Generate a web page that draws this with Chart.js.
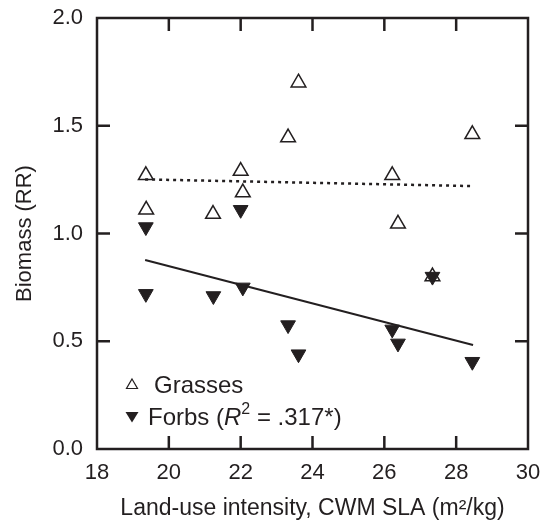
<!DOCTYPE html>
<html>
<head>
<meta charset="utf-8">
<script src="https://cdn.jsdelivr.net/npm/chart.js@4.4.1/dist/chart.umd.min.js"></script>
<style>
  html, body { margin: 0; padding: 0; background: #fff; }
  #wrap { width: 548px; height: 522px; }
</style>
</head>
<body>
<div id="wrap"><canvas id="biomassChart" width="548" height="522"></canvas></div>
<script>
// values
const grassSLA = [19.36, 19.37, 21.23, 22.0, 22.06, 23.32, 23.61, 26.22, 26.38, 27.34, 28.45];
const grassRR = [1.27, 1.11, 1.09, 1.29, 1.19, 1.445, 1.70, 1.27, 1.045, 0.80, 1.46];
const forbSLA = [19.36, 19.36, 21.24, 22.0, 22.06, 23.32, 23.61, 26.22, 26.38, 27.34, 28.45];
const forbRR = [1.03, 0.72, 0.71, 1.11, 0.75, 0.575, 0.44, 0.555, 0.49, 0.80, 0.405];
// fitted lines (end points)
const grassFitX = [19.34, 28.47];
const grassFitY = [1.251, 1.22];
const forbFitX = [19.34, 28.47];
const forbFitY = [0.877, 0.483];

const xTicks = [18, 20, 22, 24, 26, 28, 30];
const yTicks = [0.0, 0.5, 1.0, 1.5, 2.0];

const ink = '#231f20';
const fontFamily = '"Liberation Sans", Arial, Helvetica, sans-serif';

const toPoints = (xs, ys) => xs.map((x, i) => ({ x: x, y: ys[i] }));

// frame + inward ticks on all four sides, plus the legend text
const framePlugin = {
  id: 'frame',
  afterDatasetsDraw(chart) {
    const { ctx, chartArea: a, scales } = chart;
    const tickLen = 13;
    ctx.save();
    ctx.strokeStyle = ink;
    ctx.lineWidth = 2.5;
    ctx.strokeRect(a.left, a.top, a.right - a.left, a.bottom - a.top);
    ctx.beginPath();
    xTicks.slice(1, -1).forEach((v) => {
      const px = scales.x.getPixelForValue(v);
      ctx.moveTo(px, a.bottom); ctx.lineTo(px, a.bottom - tickLen);
      ctx.moveTo(px, a.top); ctx.lineTo(px, a.top + tickLen);
    });
    yTicks.slice(1, -1).forEach((v) => {
      const py = scales.y.getPixelForValue(v);
      ctx.moveTo(a.left, py); ctx.lineTo(a.left + tickLen, py);
      ctx.moveTo(a.right, py); ctx.lineTo(a.right - tickLen, py);
    });
    ctx.stroke();

    // legend
    const fs = 24;
    ctx.fillStyle = ink;
    ctx.lineWidth = 1.2;
    // open triangle
    let mx = 132, my = 384;
    ctx.beginPath();
    ctx.moveTo(mx, my - 5); ctx.lineTo(mx + 5.5, my + 4.5); ctx.lineTo(mx - 5.5, my + 4.5); ctx.closePath();
    ctx.stroke();
    // filled down triangle
    my = 417;
    ctx.beginPath();
    ctx.moveTo(mx - 6.5, my - 5); ctx.lineTo(mx + 6.5, my - 5); ctx.lineTo(mx, my + 5.5); ctx.closePath();
    ctx.fill();

    ctx.textBaseline = 'middle';
    ctx.textAlign = 'left';
    ctx.font = fs + 'px ' + fontFamily;
    ctx.fillText('Grasses', 154, 386);
    let tx = 148, ty = 418;
    const parts = [
      { t: 'Forbs (', f: fs + 'px ' + fontFamily, dy: 0 },
      { t: 'R', f: 'italic ' + fs + 'px ' + fontFamily, dy: 0 },
      { t: '2', f: Math.round(fs * 0.68) + 'px ' + fontFamily, dy: -8 },
      { t: ' = .317*)', f: fs + 'px ' + fontFamily, dy: 0 }
    ];
    parts.forEach((p) => {
      ctx.font = p.f;
      ctx.fillText(p.t, tx, ty + p.dy);
      tx += ctx.measureText(p.t).width;
    });
    ctx.restore();
  }
};

new Chart(document.getElementById('biomassChart'), {
  type: 'scatter',
  data: {
    datasets: [
      {
        label: 'Grasses fit',
        type: 'line',
        data: toPoints(grassFitX, grassFitY),
        borderColor: ink,
        borderWidth: 2.5,
        borderDash: [3, 4],
        pointRadius: 0,
        fill: false
      },
      {
        label: 'Forbs fit',
        type: 'line',
        data: toPoints(forbFitX, forbFitY),
        borderColor: ink,
        borderWidth: 2,
        pointRadius: 0,
        fill: false
      },
      {
        label: 'Forbs',
        data: toPoints(forbSLA, forbRR),
        pointStyle: 'triangle',
        rotation: 180,
        pointRadius: 8.5,
        backgroundColor: ink,
        borderColor: ink,
        borderWidth: 1
      },
      {
        label: 'Grasses',
        data: toPoints(grassSLA, grassRR),
        pointStyle: 'triangle',
        pointRadius: 8.5,
        backgroundColor: 'rgba(255,255,255,0)',
        borderColor: ink,
        borderWidth: 1.5
      }
    ]
  },
  options: {
    responsive: false,
    animation: false,
    devicePixelRatio: 1,
    layout: { autoPadding: false, padding: { left: 0, top: 18, right: 20, bottom: 0 } },
    plugins: {
      legend: { display: false },
      tooltip: { enabled: false }
    },
    scales: {
      x: {
        type: 'linear',
        min: 18,
        max: 30,
        afterBuildTicks: (scale) => { scale.ticks = xTicks.map((v) => ({ value: v })); },
        afterFit: (scale) => {
          scale.height = 73;
          scale.paddingLeft = 0;
          scale.paddingRight = 0;
        },
        grid: { display: false, drawTicks: false },
        border: { display: false },
        ticks: {
          color: ink,
          padding: 11,
          font: { family: fontFamily, size: 22 },
          callback: (v) => String(v)
        },
        title: {
          display: true,
          text: 'Land-use intensity, CWM SLA (m²/kg)',
          color: ink,
          font: { family: fontFamily, size: 23 },
          padding: { top: 0, bottom: 0 }
        }
      },
      y: {
        type: 'linear',
        min: 0,
        max: 2,
        afterBuildTicks: (scale) => { scale.ticks = yTicks.map((v) => ({ value: v })); },
        afterFit: (scale) => {
          scale.width = 97;
          scale.paddingTop = 0;
          scale.paddingBottom = 0;
        },
        grid: { display: false, drawTicks: false },
        border: { display: false },
        ticks: {
          color: ink,
          padding: 14,
          font: { family: fontFamily, size: 22 },
          callback: (v) => v.toFixed(1)
        },
        title: {
          display: true,
          text: 'Biomass (RR)',
          color: ink,
          font: { family: fontFamily, size: 22 },
          padding: { top: 12, bottom: 0 }
        }
      }
    }
  },
  plugins: [framePlugin]
});
</script>
</body>
</html>
